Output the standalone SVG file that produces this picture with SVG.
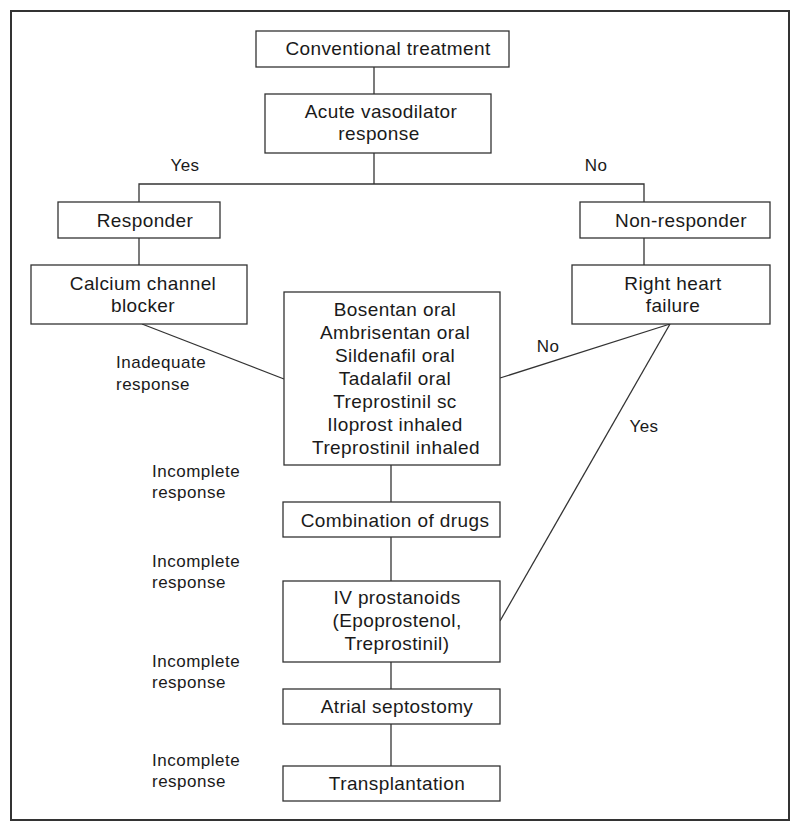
<svg xmlns="http://www.w3.org/2000/svg" width="800" height="832" viewBox="0 0 800 832">
<style>
.box{fill:#fff;stroke:#333;stroke-width:1.3}
.ln{fill:none;stroke:#333;stroke-width:1.3}
.t{font-family:"Liberation Sans",Arial,sans-serif;font-size:19px;letter-spacing:0.4px;fill:#1a1a1a;text-anchor:middle}
.l{font-family:"Liberation Sans",Arial,sans-serif;font-size:17px;letter-spacing:0.5px;fill:#1a1a1a}
.lc{text-anchor:middle}
</style>
<rect x="0" y="0" width="800" height="832" fill="#fff"/>
<rect id="frame" x="11" y="11" width="778" height="809" fill="none" stroke="#333" stroke-width="2"/>
<g id="connectors">
<line class="ln" x1="374" y1="67" x2="374" y2="94"/>
<polyline class="ln" points="374,153 374,184"/>
<polyline class="ln" points="139,202 139,184 644,184 644,202"/>
<line class="ln" x1="139" y1="238" x2="139" y2="265"/>
<line class="ln" x1="644" y1="238" x2="644" y2="265"/>
<line class="ln" x1="142" y1="324" x2="284" y2="379"/>
<line class="ln" x1="670" y1="324" x2="500" y2="378"/>
<line class="ln" x1="670" y1="324" x2="500" y2="621"/>
<line class="ln" x1="391" y1="465" x2="391" y2="502"/>
<line class="ln" x1="391" y1="537" x2="391" y2="581"/>
<line class="ln" x1="391" y1="662" x2="391" y2="689"/>
<line class="ln" x1="391" y1="724" x2="391" y2="766"/>
<text class="l lc" x="185" y="171">Yes</text>
<text class="l lc" x="596" y="171">No</text>
<text class="l lc" x="548" y="352">No</text>
<text class="l lc" x="644" y="432">Yes</text>
<text class="l" x="116" y="368">Inadequate</text>
<text class="l" x="116" y="390">response</text>
<text class="l" x="152" y="477">Incomplete</text>
<text class="l" x="152" y="498">response</text>
<text class="l" x="152" y="567">Incomplete</text>
<text class="l" x="152" y="588">response</text>
<text class="l" x="152" y="667">Incomplete</text>
<text class="l" x="152" y="688">response</text>
<text class="l" x="152" y="766">Incomplete</text>
<text class="l" x="152" y="787">response</text>
</g>
<g id="conventional">
<rect class="box" x="256" y="31" width="253" height="36"/>
<text class="t" x="388" y="55">Conventional treatment</text>
</g>
<g id="acute">
<rect class="box" x="265" y="94" width="226" height="59"/>
<text class="t" x="381" y="118">Acute vasodilator</text>
<text class="t" x="379" y="140">response</text>
</g>
<g id="responder">
<rect class="box" x="58" y="202" width="162" height="36"/>
<text class="t" x="145" y="227">Responder</text>
</g>
<g id="nonresponder">
<rect class="box" x="580" y="202" width="190" height="36"/>
<text class="t" x="681" y="227">Non-responder</text>
</g>
<g id="calcium">
<rect class="box" x="31" y="265" width="216" height="59"/>
<text class="t" x="143" y="290">Calcium channel</text>
<text class="t" x="143" y="312">blocker</text>
</g>
<g id="rightheart">
<rect class="box" x="572" y="265" width="198" height="59"/>
<text class="t" x="673" y="290">Right heart</text>
<text class="t" x="673" y="312">failure</text>
</g>
<g id="drugs">
<rect class="box" x="284" y="292" width="216" height="173"/>
<text class="t" x="395" y="316">Bosentan oral</text>
<text class="t" x="395" y="339">Ambrisentan oral</text>
<text class="t" x="395" y="362">Sildenafil oral</text>
<text class="t" x="395" y="385">Tadalafil oral</text>
<text class="t" x="395" y="408">Treprostinil sc</text>
<text class="t" x="395" y="431">Iloprost inhaled</text>
<text class="t" x="396" y="454">Treprostinil inhaled</text>
</g>
<g id="combination">
<rect class="box" x="283" y="502" width="217" height="35"/>
<text class="t" x="395" y="527">Combination of drugs</text>
</g>
<g id="iv">
<rect class="box" x="283" y="581" width="217" height="81"/>
<text class="t" x="397" y="604">IV prostanoids</text>
<text class="t" x="397" y="627">(Epoprostenol,</text>
<text class="t" x="397" y="650">Treprostinil)</text>
</g>
<g id="atrial">
<rect class="box" x="283" y="689" width="217" height="35"/>
<text class="t" x="397" y="713">Atrial septostomy</text>
</g>
<g id="transplant">
<rect class="box" x="283" y="766" width="217" height="35"/>
<text class="t" x="397" y="790">Transplantation</text>
</g>
</svg>
